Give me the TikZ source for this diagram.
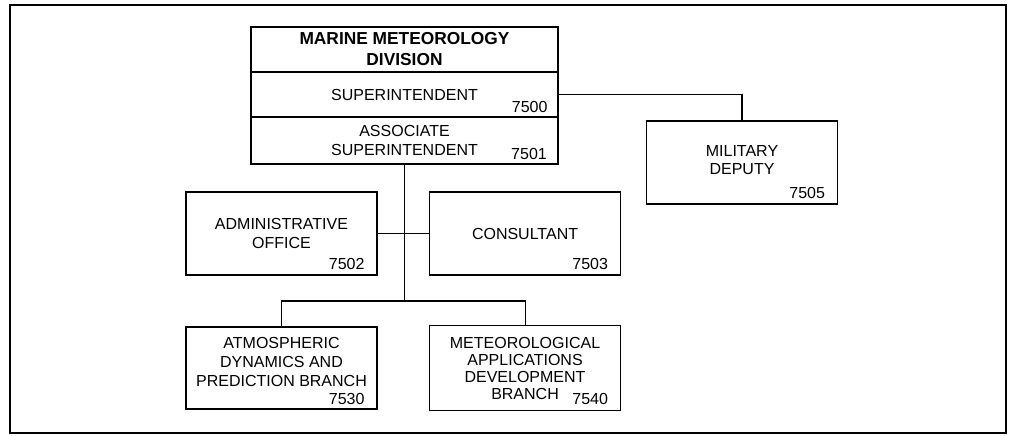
\documentclass[tikz,border=0pt]{standalone}
\usepackage{fontspec}
\setmainfont{Liberation Sans}
\usetikzlibrary{positioning}

\begin{document}
\begin{tikzpicture}[x=0.75pt, y=-0.75pt, thick, align=center,
    every node/.style={font=\fontsize{12}{14}\selectfont},
    head/.style={draw, rectangle, minimum width=230.25pt, minimum height=33.75pt, inner sep=1pt, outer sep=0pt},
    unit/.style={draw, rectangle, minimum width=143.25pt, minimum height=62.25pt, inner sep=1pt, outer sep=0pt},
    num/.style={anchor=base east, inner sep=0pt}]
  \useasboundingbox (0,0) rectangle (1016,435);
  \draw [line width=1.5pt] (10,5) rectangle (1006,433);

  \node (div) [head, font=\fontsize{13}{15.75}\selectfont\bfseries] at (404.5,49.5)
    {MARINE METEOROLOGY\\DIVISION};
  \node (sup) [head, below=0pt of div] {SUPERINTENDENT};
  \node (assoc) [head, minimum height=35.25pt, below=0pt of sup] {ASSOCIATE\\SUPERINTENDENT};

  \node (mil) [unit, text depth=4pt] at (742,162.5) {MILITARY\\DEPUTY};
  \node (admin) [unit] at (281.5,233.5) {ADMINISTRATIVE\\OFFICE};
  \node (cons) [unit, right=39.4pt of admin] {CONSULTANT};
  \node (atmos) [unit, minimum height=61.5pt, below=39pt of admin, text depth=9pt, font=\fontsize{12}{14.25}\selectfont]
    {ATMOSPHERIC\\DYNAMICS AND\\PREDICTION BRANCH};
  \node (meteo) [unit, minimum height=63.75pt, right=39.4pt of atmos, font=\fontsize{12}{12.75}\selectfont]
    {METEOROLOGICAL\\APPLICATIONS\\DEVELOPMENT\\BRANCH};

  \node (n7500) [num] at ([shift={(-7.5pt,3.3pt)}]sup.south east) {7500};
  \node (n7501) [num] at ([shift={(-8pt,3.3pt)}]assoc.south east) {7501};
  \node (n7502) [num] at ([shift={(-9pt,4.5pt)}]admin.south east) {7502};
  \node (n7503) [num] at ([shift={(-9pt,4.5pt)}]cons.south east) {7503};
  \node (n7505) [num] at ([shift={(-9pt,4pt)}]mil.south east) {7505};
  \node (n7530) [num] at ([shift={(-9pt,3.3pt)}]atmos.south east) {7530};
  \node (n7540) [num] at ([shift={(-9pt,4.5pt)}]meteo.south east) {7540};

  \coordinate (bus) at (404.5,301);
  \draw (sup.east) -| (mil.north);
  \draw (assoc.south) -- (bus);
  \draw (admin.east) -- (cons.west);
  \draw (atmos.north) |- (bus) -| (meteo.north);
\end{tikzpicture}
\end{document}
